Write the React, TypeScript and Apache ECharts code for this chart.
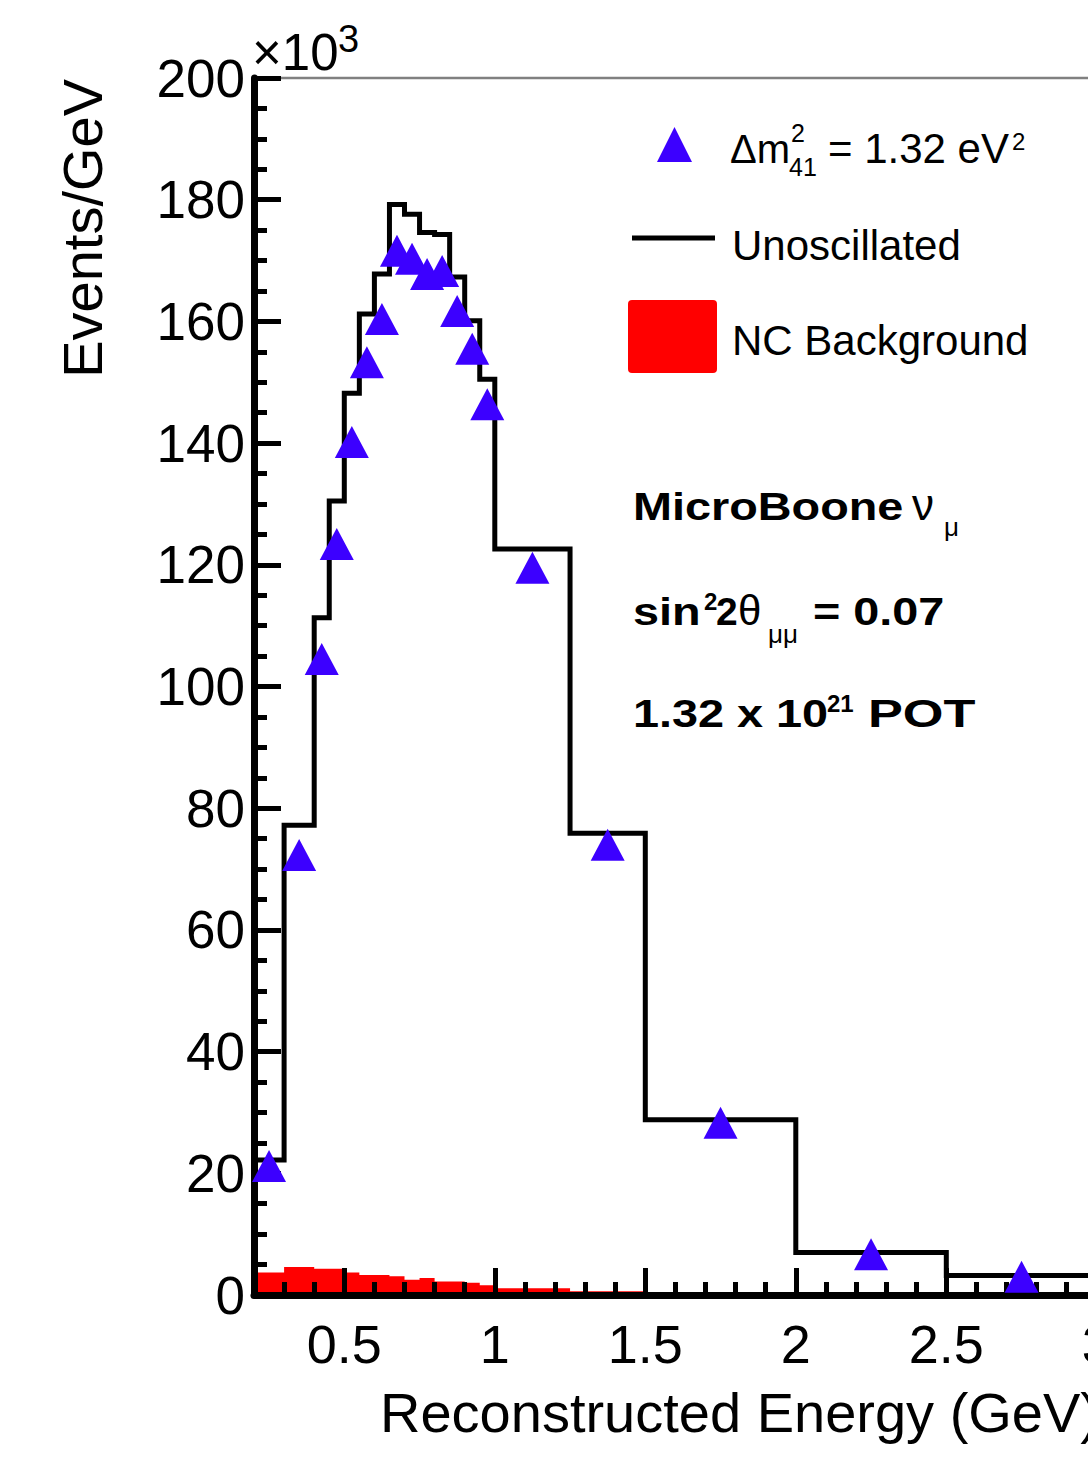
import React, { useEffect, useRef } from "react";
import * as echarts from "echarts";

// Bin edges in GeV
const binEdges = [0.2, 0.3, 0.4, 0.45, 0.5, 0.55, 0.6, 0.65, 0.7, 0.75, 0.8, 0.85, 0.9, 0.95, 1.0, 1.25, 1.5, 2.0, 2.5, 3.0];
// Events/GeV, in units of 10^3
const unoscillated = [22.2, 77.2, 111.3, 130.5, 148.2, 161.2, 167.8, 179.2, 177.6, 174.6, 174.3, 167.3, 160.1, 150.5, 122.6, 75.9, 28.8, 7.0, 3.2];
const oscillated = [21.2, 72.3, 104.5, 123.4, 140.2, 153.3, 160.4, 171.6, 170.3, 167.8, 168.3, 161.7, 155.5, 146.4, 119.5, 74.0, 28.3, 6.7, 3.0];
const ncBackground = [3.7, 4.6, 4.3, 4.3, 3.7, 3.3, 3.3, 3.1, 2.5, 2.8, 2.2, 2.2, 2.0, 1.6, 1.1, 0.6, 0.2, 0.05, 0.02];

const xRange = [0.2, 3.0];
const yRange = [0, 200];
const yInterval = 20;

const FONT = "'Liberation Sans', Arial, Helvetica, sans-serif";
const TRI_COLOR = "#3c00ff";

function stepPoints(values: number[]) {
  const pts: number[][] = [];
  values.forEach((v, i) => {
    pts.push([binEdges[i], v]);
    pts.push([binEdges[i + 1], v]);
  });
  return pts;
}
function centerPoints(values: number[]) {
  return values.map((v, i) => [(binEdges[i] + binEdges[i + 1]) / 2, v]);
}

// text helper: x = left edge, baseline = y of text baseline
function t(text: string, x: number, baseline: number, size: number, opts: any = {}) {
  return {
    type: "text",
    x,
    y: baseline - 0.3465 * size,
    z: 100,
    scaleX: opts.scaleX ?? 1,
    rotation: opts.rotation ?? 0,
    style: {
      text,
      fontSize: size,
      fontFamily: FONT,
      fontWeight: opts.bold ? "bold" : "normal",
      fill: "#000",
      textAlign: opts.align ?? "left",
      textVerticalAlign: "middle",
    },
  };
}

export default function App() {
  const ref = useRef<HTMLDivElement>(null);
  useEffect(() => {
    if (!ref.current) return;
    const chart = echarts.init(ref.current, undefined, { renderer: "svg" });
    const W = 1120;
    const left = 254;
    const pxPerGeV = 301;
    const rightEdge = left + (xRange[1] - xRange[0]) * pxPerGeV;
    const B = 39; // bold text size
    const SX = 1.2;
    const option: any = {
      animation: false,
      backgroundColor: "#fff",
      textStyle: { fontFamily: FONT },
      grid: {
        left,
        right: W - rightEdge,
        top: 78,
        bottom: 1462 - 1295,
        show: true,
        borderColor: "#808080",
        borderWidth: 2.5,
        backgroundColor: "transparent",
      },
      xAxis: {
        type: "value",
        min: xRange[0],
        max: xRange[1],
        z: 3,
        axisLine: { show: true, onZero: false, lineStyle: { color: "#000", width: 7 } },
        axisTick: { show: true, inside: true, length: 27, lineStyle: { color: "#000", width: 5 } },
        minorTick: { show: true, splitNumber: 5, length: 13, lineStyle: { color: "#000", width: 5 } },
        splitLine: { show: false },
        axisLabel: {
          show: true,
          showMinLabel: false,
          fontSize: 54,
          color: "#000",
          fontFamily: FONT,
          margin: 22,
        },
      },
      yAxis: {
        type: "value",
        min: yRange[0],
        max: yRange[1],
        interval: yInterval,
        z: 3,
        axisLine: { show: true, onZero: false, lineStyle: { color: "#000", width: 7 } },
        axisTick: { show: true, inside: true, length: 27, lineStyle: { color: "#000", width: 5 } },
        minorTick: { show: true, splitNumber: 4, length: 13, lineStyle: { color: "#000", width: 5 } },
        splitLine: { show: false },
        axisLabel: { fontSize: 53, color: "#000", fontFamily: FONT, margin: 9 },
      },
      series: [
        {
          name: "NC Background",
          type: "line",
          z: 1,
          data: stepPoints(ncBackground),
          symbol: "none",
          lineStyle: { width: 0, color: "#ff0000" },
          areaStyle: { color: "#ff0000", opacity: 1 },
          silent: true,
        },
        {
          name: "Unoscillated",
          type: "line",
          z: 4,
          data: stepPoints(unoscillated),
          symbol: "none",
          lineStyle: { width: 5, color: "#000", join: "miter", cap: "square" },
          silent: true,
        },
        {
          name: "Oscillated",
          type: "scatter",
          z: 5,
          data: centerPoints(oscillated),
          symbol: "triangle",
          symbolSize: [34, 32],
          itemStyle: { color: TRI_COLOR, opacity: 1 },
          silent: true,
        },
      ],
      graphic: [
        // y axis title
        {
          type: "text",
          x: 82.6,
          y: 79,
          rotation: Math.PI / 2,
          z: 100,
          style: {
            text: "Events/GeV",
            fontSize: 56,
            fontFamily: FONT,
            fill: "#000",
            textAlign: "right",
            textVerticalAlign: "middle",
          },
        },
        // x axis title
        t("Reconstructed Energy (GeV)", 380, 1432, 56),
        // x10^3
        t("\u00d710", 252, 70, 51),
        t("3", 338, 52, 38),
        // legend
        {
          type: "polygon",
          z: 100,
          shape: { points: [[657, 162], [692, 162], [674.5, 127]] },
          style: { fill: TRI_COLOR },
        },
        t("\u0394m", 730, 163, 40),
        t("2", 791, 142, 25),
        t("41", 789, 176, 25),
        t("= 1.32 eV", 828, 163, 42),
        t("2", 1012, 150, 24),
        {
          type: "line",
          z: 100,
          shape: { x1: 632, y1: 238, x2: 715, y2: 238 },
          style: { stroke: "#000", lineWidth: 5 },
        },
        t("Unoscillated", 732, 260, 42),
        {
          type: "rect",
          z: 100,
          shape: { x: 628, y: 300, width: 89, height: 73, r: 4 },
          style: { fill: "#ff0000" },
        },
        t("NC Background", 732, 355, 42),
        // annotations
        t("MicroBoone", 633, 520, B, { bold: true, scaleX: SX }),
        t("\u03bd", 912, 520, 44),
        t("\u03bc", 944, 536, 26),
        t("sin", 633, 625, B, { bold: true, scaleX: SX }),
        t("2", 704, 610, 24, { bold: true }),
        t("2", 716, 625, B, { bold: true }),
        t("\u03b8", 738, 625, 42),
        t("\u03bc\u03bc", 768, 643, 26),
        t("= 0.07", 813, 625, B, { bold: true, scaleX: SX }),
        t("1.32 x 10", 633, 727, B, { bold: true, scaleX: SX }),
        t("21", 827, 712, 24, { bold: true }),
        t("POT", 868, 727, B, { bold: true, scaleX: 1.34 }),
      ],
    };
    chart.setOption(option);
    return () => chart.dispose();
  }, []);
  return (
    <div
      style={{
        position: "fixed",
        left: 0,
        top: 0,
        width: 1088,
        height: 1462,
        overflow: "hidden",
        background: "#fff",
      }}
    >
      <div ref={ref} style={{ width: 1120, height: 1462 }} />
    </div>
  );
}
